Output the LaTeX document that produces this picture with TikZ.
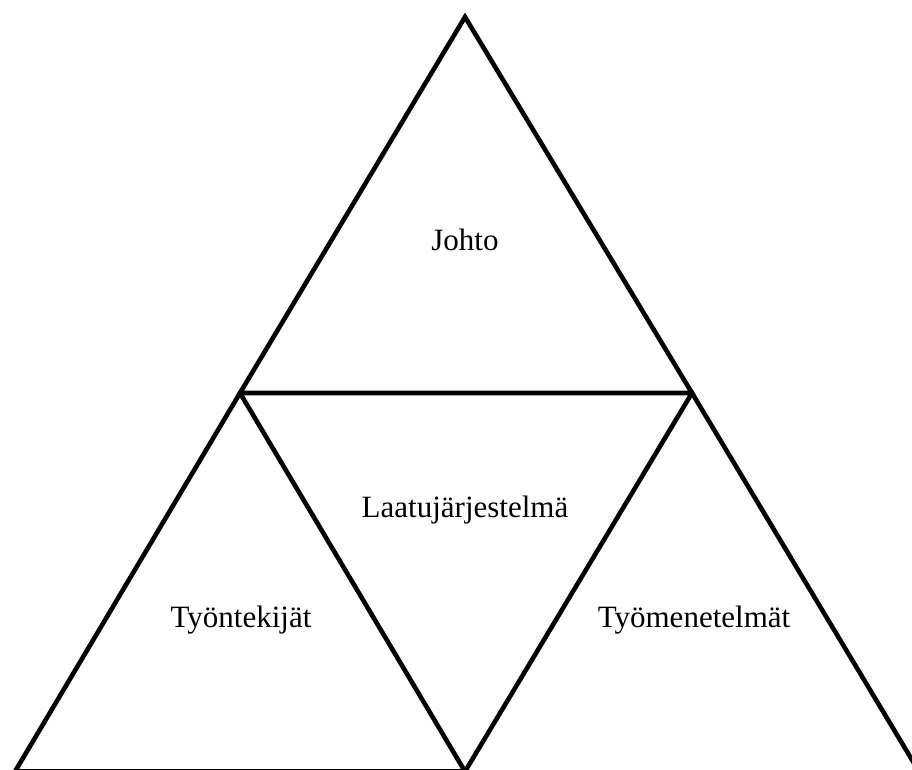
\documentclass[tikz,border=0pt]{standalone}
\usepackage{fontspec}
\setmainfont{Liberation Serif}

\begin{document}
\begin{tikzpicture}[
  x=1pt, y=1pt,
  edge/.style={line width=4.6pt, line join=miter},
  tag/.style={font=\fontsize{31}{37}\selectfont, inner sep=0pt, anchor=base}
]
\useasboundingbox (0,0) rectangle (912,769);
\clip (0,0) rectangle (912,769);

% corners of the four triangles
\coordinate (top) at (465,752);
\coordinate (ml) at (240,376);
\coordinate (mr) at (692,376);
\coordinate (bl) at (15,-2.5);
\coordinate (bm) at (465,-2.5);
\coordinate (br) at (919,-2.5);
\coordinate (bmlow) at (465,-8);
\coordinate (brlow) at (919,-8);

\draw[edge] (top) -- (ml) -- (mr) -- cycle;
\draw[edge] (ml) -- (bl) -- (bm) -- cycle;
% base of the right one lies below the page
\draw[edge] (bmlow) -- (bm) -- (mr) -- (br) -- (brlow) -- cycle;

\node[tag] (johto) at (465,518) {Johto};
\node[tag] (laatu) at (465,252) {Laatujärjestelmä};
\node[tag] (tekijat) at (241,142) {Työntekijät};
\node[tag] (menetelmat) at (694,142) {Työmenetelmät};
\end{tikzpicture}
\end{document}
